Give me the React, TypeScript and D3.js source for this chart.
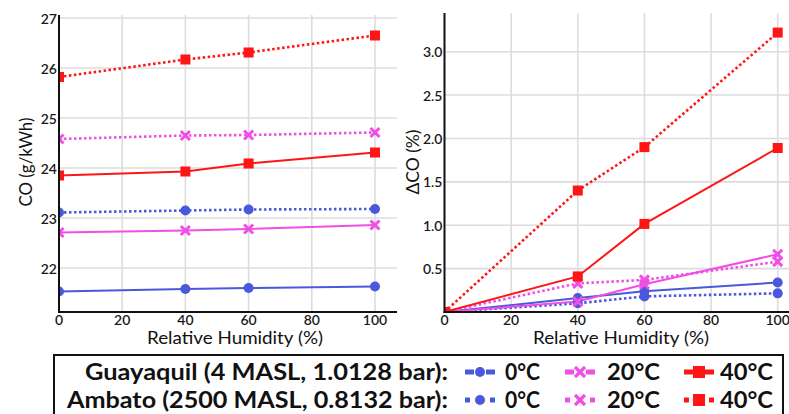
import React from "react";
import * as d3 from "d3";

const humidity = [0, 40, 60, 100];
const xTicks = [0, 20, 40, 60, 80, 100];
const coTicks = [22, 23, 24, 25, 26, 27];
const dcoTicks = [0.5, 1.0, 1.5, 2.0, 2.5, 3.0];

const coGuayaquil0 = [21.53, 21.58, 21.6, 21.63];
const coGuayaquil20 = [22.71, 22.75, 22.78, 22.86];
const coGuayaquil40 = [23.85, 23.93, 24.09, 24.31];
const coAmbato0 = [23.11, 23.15, 23.17, 23.18];
const coAmbato20 = [24.58, 24.65, 24.66, 24.71];
const coAmbato40 = [25.82, 26.17, 26.31, 26.65];

const dcoGuayaquil0 = [0, 0.16, 0.24, 0.34];
const dcoGuayaquil20 = [0, 0.12, 0.32, 0.665];
const dcoGuayaquil40 = [0, 0.41, 1.015, 1.89];
const dcoAmbato0 = [0, 0.1, 0.18, 0.215];
const dcoAmbato20 = [0, 0.33, 0.37, 0.58];
const dcoAmbato40 = [0, 1.4, 1.9, 3.22];

const temps = ["0°C", "20°C", "40°C"];
const cities = ["Guayaquil (4 MASL, 1.0128 bar):", "Ambato (2500 MASL, 0.8132 bar):"];

const BLUE = "#4a58dc";
const MAG = "#f04ee4";
const RED = "#ff1515";
const colors = [BLUE, MAG, RED];
const shapes = ["circle", "x", "square"];

const FONT = "Lato, 'Open Sans', sans-serif";

type Series = { values: number[]; color: string; shape: string; dotted: boolean };

const leftSeries: Series[] = [
  { values: coGuayaquil0, color: BLUE, shape: "circle", dotted: false },
  { values: coGuayaquil20, color: MAG, shape: "x", dotted: false },
  { values: coGuayaquil40, color: RED, shape: "square", dotted: false },
  { values: coAmbato0, color: BLUE, shape: "circle", dotted: true },
  { values: coAmbato20, color: MAG, shape: "x", dotted: true },
  { values: coAmbato40, color: RED, shape: "square", dotted: true },
];
const rightSeries: Series[] = [
  { values: dcoAmbato0, color: BLUE, shape: "circle", dotted: true },
  { values: dcoGuayaquil0, color: BLUE, shape: "circle", dotted: false },
  { values: dcoAmbato20, color: MAG, shape: "x", dotted: true },
  { values: dcoGuayaquil20, color: MAG, shape: "x", dotted: false },
  { values: dcoGuayaquil40, color: RED, shape: "square", dotted: false },
  { values: dcoAmbato40, color: RED, shape: "square", dotted: true },
];

function Marker({ x, y, shape, color }: { x: number; y: number; shape: string; color: string }) {
  if (shape === "circle") return <circle cx={x} cy={y} r={5} fill={color} />;
  if (shape === "square") return <rect x={x - 5} y={y - 5} width={10} height={10} fill={color} />;
  const s = 4.5;
  return (
    <g stroke={color} strokeWidth={3}>
      <line x1={x - s} y1={y - s} x2={x + s} y2={y + s} />
      <line x1={x - s} y1={y + s} x2={x + s} y2={y - s} />
    </g>
  );
}

function Panel({
  series, xs, ys, yTicks, fmt, gridRight, gridTop, id, labelX, title, titleX, titleLen,
}: any) {
  const x0 = xs(0);
  const yb = ys.range()[0];
  const line = (vals: number[]) =>
    d3.line<number>().x((_, i) => xs(humidity[i])).y((v) => ys(v))(vals) || "";
  return (
    <g>
      <defs>
        <clipPath id={id}>
          <rect x={x0} y={0} width={gridRight - x0} height={yb - 0} />
        </clipPath>
      </defs>
      {yTicks.map((t: number) => (
        <line key={"h" + t} x1={x0} x2={gridRight} y1={ys(t)} y2={ys(t)} stroke="#dcdcdc" strokeWidth={1.6} />
      ))}
      {xTicks.slice(1).map((t) => (
        <line key={"v" + t} x1={xs(t)} x2={xs(t)} y1={gridTop} y2={yb} stroke="#dcdcdc" strokeWidth={1.6} />
      ))}
      <g clipPath={`url(#${id})`}>
        {series.map((s: Series, i: number) => (
          <path
            key={"l" + i}
            d={line(s.values)}
            fill="none"
            stroke={s.color}
            strokeWidth={s.dotted ? 2.6 : 2}
            strokeDasharray={s.dotted ? "2.5,2.5" : undefined}
          />
        ))}
        {series.map((s: Series, i: number) =>
          s.values.map((v, j) => (
            <Marker key={`m${i}-${j}`} x={xs(humidity[j])} y={ys(v)} shape={s.shape} color={s.color} />
          ))
        )}
      </g>
      <line x1={x0} x2={x0} y1={gridTop} y2={yb + 1} stroke="#111" strokeWidth={2} />
      <line x1={x0 - 1} x2={gridRight} y1={yb} y2={yb} stroke="#111" strokeWidth={2} />
      {yTicks.map((t: number) => (
        <text key={"yt" + t} x={x0 - 2} y={ys(t)} textAnchor="end" dominantBaseline="central"
          fontFamily={FONT} fontSize={14} fontWeight={600} fill="#1a1a1a">
          {fmt(t)}
        </text>
      ))}
      {xTicks.map((t) => (
        <text key={"xt" + t} x={xs(t)} y={325} textAnchor="middle"
          fontFamily={FONT} fontSize={14} fontWeight={600} fill="#1a1a1a">
          {t}
        </text>
      ))}
      <text x={labelX} y={344} textAnchor="middle" fontFamily={FONT} fontSize={17} fill="#111"
        textLength={176} lengthAdjust="spacingAndGlyphs">
        Relative Humidity (%)
      </text>
      <text transform={`translate(${titleX},162) rotate(-90)`} textAnchor="middle" dominantBaseline="central"
        fontFamily={FONT} fontSize={18} fill="#111" textLength={titleLen} lengthAdjust="spacingAndGlyphs">
        {title}
      </text>
    </g>
  );
}

function LegendSymbol({ cx, cy, color, shape, dotted }: any) {
  const segs = dotted
    ? [[-15, -10], [10, 15]]
    : [[-15, -6], [6, 15]];
  return (
    <g>
      {segs.map(([a, b], i) => (
        <rect key={i} x={cx + a} y={cy - 2.5} width={b - a} height={5} fill={color} />
      ))}
      {shape === "circle" && <circle cx={cx} cy={cy} r={5} fill={color} />}
      {shape === "square" && <rect x={cx - 6} y={cy - 6} width={12} height={12} fill={color} />}
      {shape === "x" && (
        <g stroke={color} strokeWidth={3.2}>
          <line x1={cx - 5} y1={cy - 5} x2={cx + 5} y2={cy + 5} />
          <line x1={cx - 5} y1={cy + 5} x2={cx + 5} y2={cy - 5} />
        </g>
      )}
    </g>
  );
}

export default function App() {
  const xL = d3.scaleLinear().domain([0, 100]).range([59, 375]);
  const yL = d3.scaleLinear().domain([21.12, 27.06]).range([312, 15]);
  const xR = d3.scaleLinear().domain([0, 100]).range([444.5, 777.7]);
  const yR = d3.scaleLinear().domain([0, 3.44]).range([312, 13.5]);

  const symX = [480, 580, 699];
  const labX = [505, 607, 720];
  const labLen = [35, 53, 53];
  const rowBase = [380, 408];
  const cityLen = [363, 381];

  return (
    <svg width={789} height={414} style={{ position: "absolute", left: 0, top: 0, background: "#fff" }}>
      <rect x={0} y={0} width={789} height={414} fill="#fff" />
      <Panel series={leftSeries} xs={xL} ys={yL} yTicks={coTicks} fmt={(t: number) => String(t)}
        gridRight={397} gridTop={15} id="clipL" labelX={235} title="CO (g/kWh)" titleX={25} titleLen={89} />
      <Panel series={rightSeries} xs={xR} ys={yR} yTicks={dcoTicks} fmt={(t: number) => t.toFixed(1)}
        gridRight={789} gridTop={13} id="clipR" labelX={621} title="ΔCO (%)" titleX={412} titleLen={65} />
      <rect x={54} y={355} width={729} height={80} fill="#fff" stroke="#111" strokeWidth={2} />
      {cities.map((c, r) => (
        <g key={c}>
          <text x={448} y={rowBase[r]} textAnchor="end" fontFamily={FONT} fontSize={23} fontWeight={700}
            fill="#111" textLength={cityLen[r]} lengthAdjust="spacingAndGlyphs">
            {c}
          </text>
          {temps.map((t, k) => (
            <g key={t}>
              <LegendSymbol cx={symX[k]} cy={rowBase[r] - 8} color={colors[k]} shape={shapes[k]} dotted={r === 1} />
              <text x={labX[k]} y={rowBase[r]} fontFamily={FONT} fontSize={23} fontWeight={700} fill="#111"
                textLength={labLen[k]} lengthAdjust="spacingAndGlyphs">
                {t}
              </text>
            </g>
          ))}
        </g>
      ))}
    </svg>
  );
}
